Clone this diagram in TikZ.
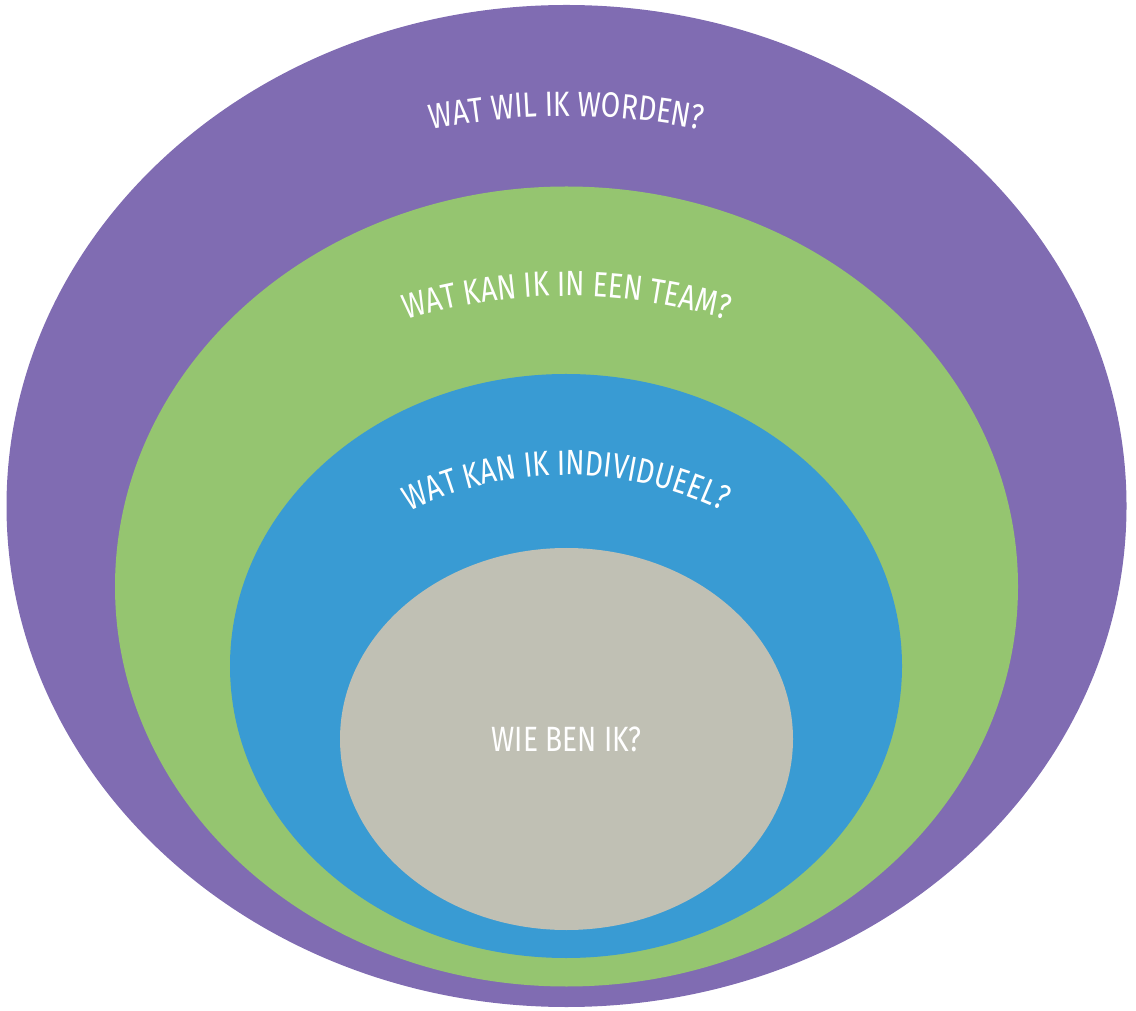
\documentclass[tikz,border=0pt]{standalone}
\usepackage{fontspec}
\setmainfont{Fira Sans}[FakeStretch=0.8]
\usetikzlibrary{shapes.geometric,decorations.text}
\definecolor{ringpurple}{RGB}{128,108,178}
\definecolor{ringgreen}{RGB}{149,197,112}
\definecolor{ringblue}{RGB}{57,155,211}
\definecolor{ringgrey}{RGB}{192,192,180}
\newcommand{\ringfont}{\fontsize{20}{22}\selectfont}
\tikzset{
	ring/.style={ellipse, fill=#1, inner sep=0pt, text=white, font=\ringfont},
	arc label/.style={decorate, decoration={text along path, text align=center,
			text color=white, text={|\ringfont|#1}}}
}

\begin{document}
\begin{tikzpicture}
	\useasboundingbox (0,0) rectangle (22.72,20.2);
	\node[ring=ringpurple, minimum width=22.4cm, minimum height=20.04cm] (purple) at (11.33,10.08) {};
	\node[ring=ringgreen, minimum width=18.06cm, minimum height=16cm] (green) at (11.33,8.47) {};
	\node[ring=ringblue, minimum width=13.44cm, minimum height=11.68cm] (blue) at (11.32,6.88) {};
	\node[ring=ringgrey, minimum width=9.06cm, minimum height=7.64cm] (grey) at (11.33,5.42) {WIE BEN IK?};
	% questions bent along arcs
	\path[arc label={WAT WIL IK WORDEN?}] (11.33,4.72) ++(130:13.16)
	arc[start angle=130, end angle=50, radius=13.16];
	\path[arc label={WAT KAN IK IN EEN TEAM?}] (11.33,3.38) ++(130:10.9)
	arc[start angle=130, end angle=50, radius=10.9];
	\path[arc label={WAT KAN IK INDIVIDUEEL?}] (11.33,3.6) ++(130:7.1)
	arc[start angle=130, end angle=50, radius=7.1];
\end{tikzpicture}
\end{document}
